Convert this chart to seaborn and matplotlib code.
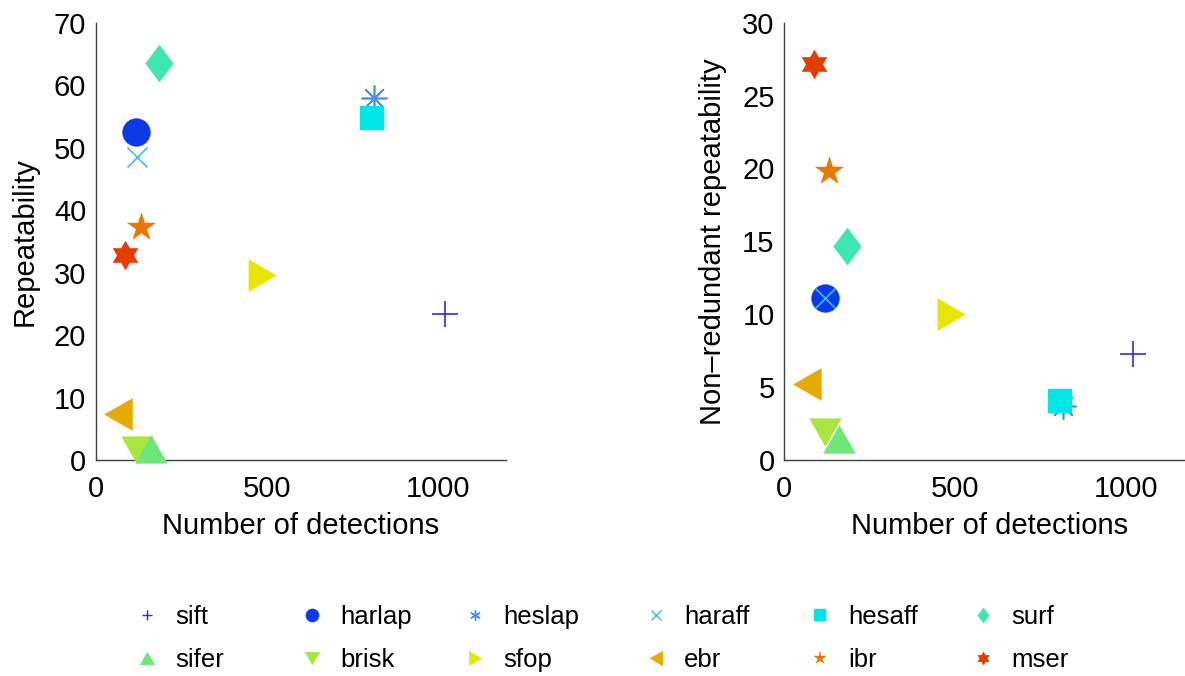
import numpy as np
import matplotlib
matplotlib.use("Agg")
import matplotlib.pyplot as plt
from matplotlib.lines import Line2D
from matplotlib.markers import MarkerStyle
from matplotlib.path import Path
import seaborn as sns

# ---------------- data ----------------
detectors = ['sift', 'harlap', 'heslap', 'haraff', 'hesaff', 'surf',
             'sifer', 'brisk', 'sfop', 'ebr', 'ibr', 'mser']
n_detections = [1021, 118, 815, 120, 807, 183, 160, 120, 487, 65, 132, 86]
repeatability = [23.4, 52.5, 58.0, 48.5, 54.7, 63.6, 1.8, 1.55, 29.6, 7.4, 37.3, 32.8]
nonredundant = [7.27, 11.09, 3.7, 11.09, 4.07, 14.68, 1.45, 1.95, 10.0, 5.21, 19.85, 27.2]
colors = ['#2c2ce0', '#0a3ae6', '#4690ef', '#40bcf0', '#00e6e6', '#3ee6b0',
          '#6ee67a', '#a8e63c', '#e6e600', '#e6aa00', '#e87800', '#e63c00']

xticks = [0, 500, 1000]
yticks_left = [0, 10, 20, 30, 40, 50, 60, 70]
yticks_right = [0, 5, 10, 15, 20, 25, 30]

# ---------------- marker shapes ----------------
def poly(verts):
    v = list(verts) + [verts[0]]
    return MarkerStyle(Path(v, closed=True))

ang_o = np.deg2rad(90 + 60 * np.arange(6))
ang_i = ang_o + np.deg2rad(30)
hexv = []
for ao, ai in zip(ang_o, ang_i):
    hexv.append((np.cos(ao), np.sin(ao)))
    hexv.append((np.cos(ai) / np.sqrt(3), np.sin(ai) / np.sqrt(3)))

mk = {
    'sift': '+',
    'harlap': 'o',
    'heslap': (8, 2, 0),
    'haraff': 'x',
    'hesaff': 's',
    'surf': poly([(0, 1), (0.75, 0), (0, -1), (-0.75, 0)]),
    'sifer': poly([(0, 0.874), (1, -0.874), (-1, -0.874)]),
    'brisk': poly([(0, -0.874), (1, 0.874), (-1, 0.874)]),
    'sfop': poly([(0.853, 0), (-0.853, 1), (-0.853, -1)]),
    'ebr': poly([(-0.875, 0), (0.875, 1), (0.875, -1)]),
    'ibr': '*',
    'mser': poly(hexv),
}
legend_mk = dict(mk)
legend_mk['heslap'] = (6, 2, 0)
# marker size in points (diameter-like)
msize = {'sift': 19, 'harlap': 20, 'heslap': 18, 'haraff': 14.4, 'hesaff': 16.8,
         'surf': 26.6, 'sifer': 22.8, 'brisk': 22.8, 'sfop': 23, 'ebr': 23,
         'ibr': 21, 'mser': 20.7}
lsize = {'sift': 7.5, 'harlap': 9.5, 'heslap': 7.5, 'haraff': 7, 'hesaff': 8.5,
         'surf': 11, 'sifer': 10.5, 'brisk': 10.5, 'sfop': 10.5, 'ebr': 10.5,
         'ibr': 9.5, 'mser': 9.5}
zord = {'sifer': 4}
unfilled = {'sift', 'heslap', 'haraff'}

# ---------------- figure ----------------
sns.set_style("white")
plt.rcParams['font.family'] = ['Liberation Sans', 'DejaVu Sans']
plt.rcParams['text.color'] = 'black'
plt.rcParams['axes.labelcolor'] = 'black'
W, H = 1185, 676
fig = plt.figure(figsize=(W / 100, H / 100), dpi=100)

axL = fig.add_axes([96 / W, (H - 460) / H, 410 / W, 437.3 / H])
axR = fig.add_axes([784.3 / W, (H - 460) / H, 410 / W, 437.3 / H])

FS = 21

def draw(ax, yvals, ylim, yticks, ylabel):
    for i, name in enumerate(detectors):
        kw = dict(x=[n_detections[i]], y=[yvals[i]], marker=mk[name],
                  s=msize[name] ** 2, color=colors[i], ax=ax, legend=False,
                  clip_on=False, zorder=zord.get(name, 3))
        if name in unfilled:
            kw['linewidth'] = 1.2
        else:
            kw['edgecolor'] = colors[i]
            kw['linewidth'] = 0.3
        sns.scatterplot(**kw)
    ax.set_xlim(0, 1200)
    ax.set_ylim(*ylim)
    ax.set_xticks(xticks)
    ax.set_yticks(yticks)
    for s in ['top', 'right']:
        ax.spines[s].set_visible(False)
    for s in ['left', 'bottom']:
        ax.spines[s].set_color('#404040')
        ax.spines[s].set_linewidth(1.0)
    ax.tick_params(direction='in', length=4, width=0.8, color='#404040',
                   labelsize=FS, labelcolor='black')
    ax.tick_params(axis='x', pad=11)
    ax.tick_params(axis='y', pad=7)
    ax.set_xlabel('Number of detections', fontsize=FS)
    ax.set_ylabel(ylabel, fontsize=FS)
    ax.xaxis.set_label_coords(0.5, -0.118)
    ax.yaxis.set_label_coords(-0.14, 0.5)

draw(axL, repeatability, (0, 70), yticks_left, 'Repeatability')
draw(axR, nonredundant, (0, 30), yticks_right, 'Non\u2013redundant repeatability')

# ---------------- legend (2 rows x 6 columns) ----------------
col_x = [147, 311.7, 475, 655.7, 820, 983]
row_y = [617, 660]
fs = 18.5
for i, name in enumerate(detectors):
    r, c = divmod(i, 6)
    h = Line2D([], [], marker=legend_mk[name], linestyle='none', color=colors[i],
               markersize=lsize[name],
               markeredgewidth=1.0 if name in unfilled else 0.3,
               markeredgecolor=colors[i])
    hl_px = fs * 100 / 72 * 1.0
    fig.legend([h], [name], loc='center left',
               bbox_to_anchor=((col_x[c] - hl_px / 2) / W, 1 - row_y[r] / H),
               frameon=False, fontsize=fs, handlelength=1.0,
               handletextpad=0.6, borderpad=0, borderaxespad=0)

fig.savefig('out.png', dpi=100)
